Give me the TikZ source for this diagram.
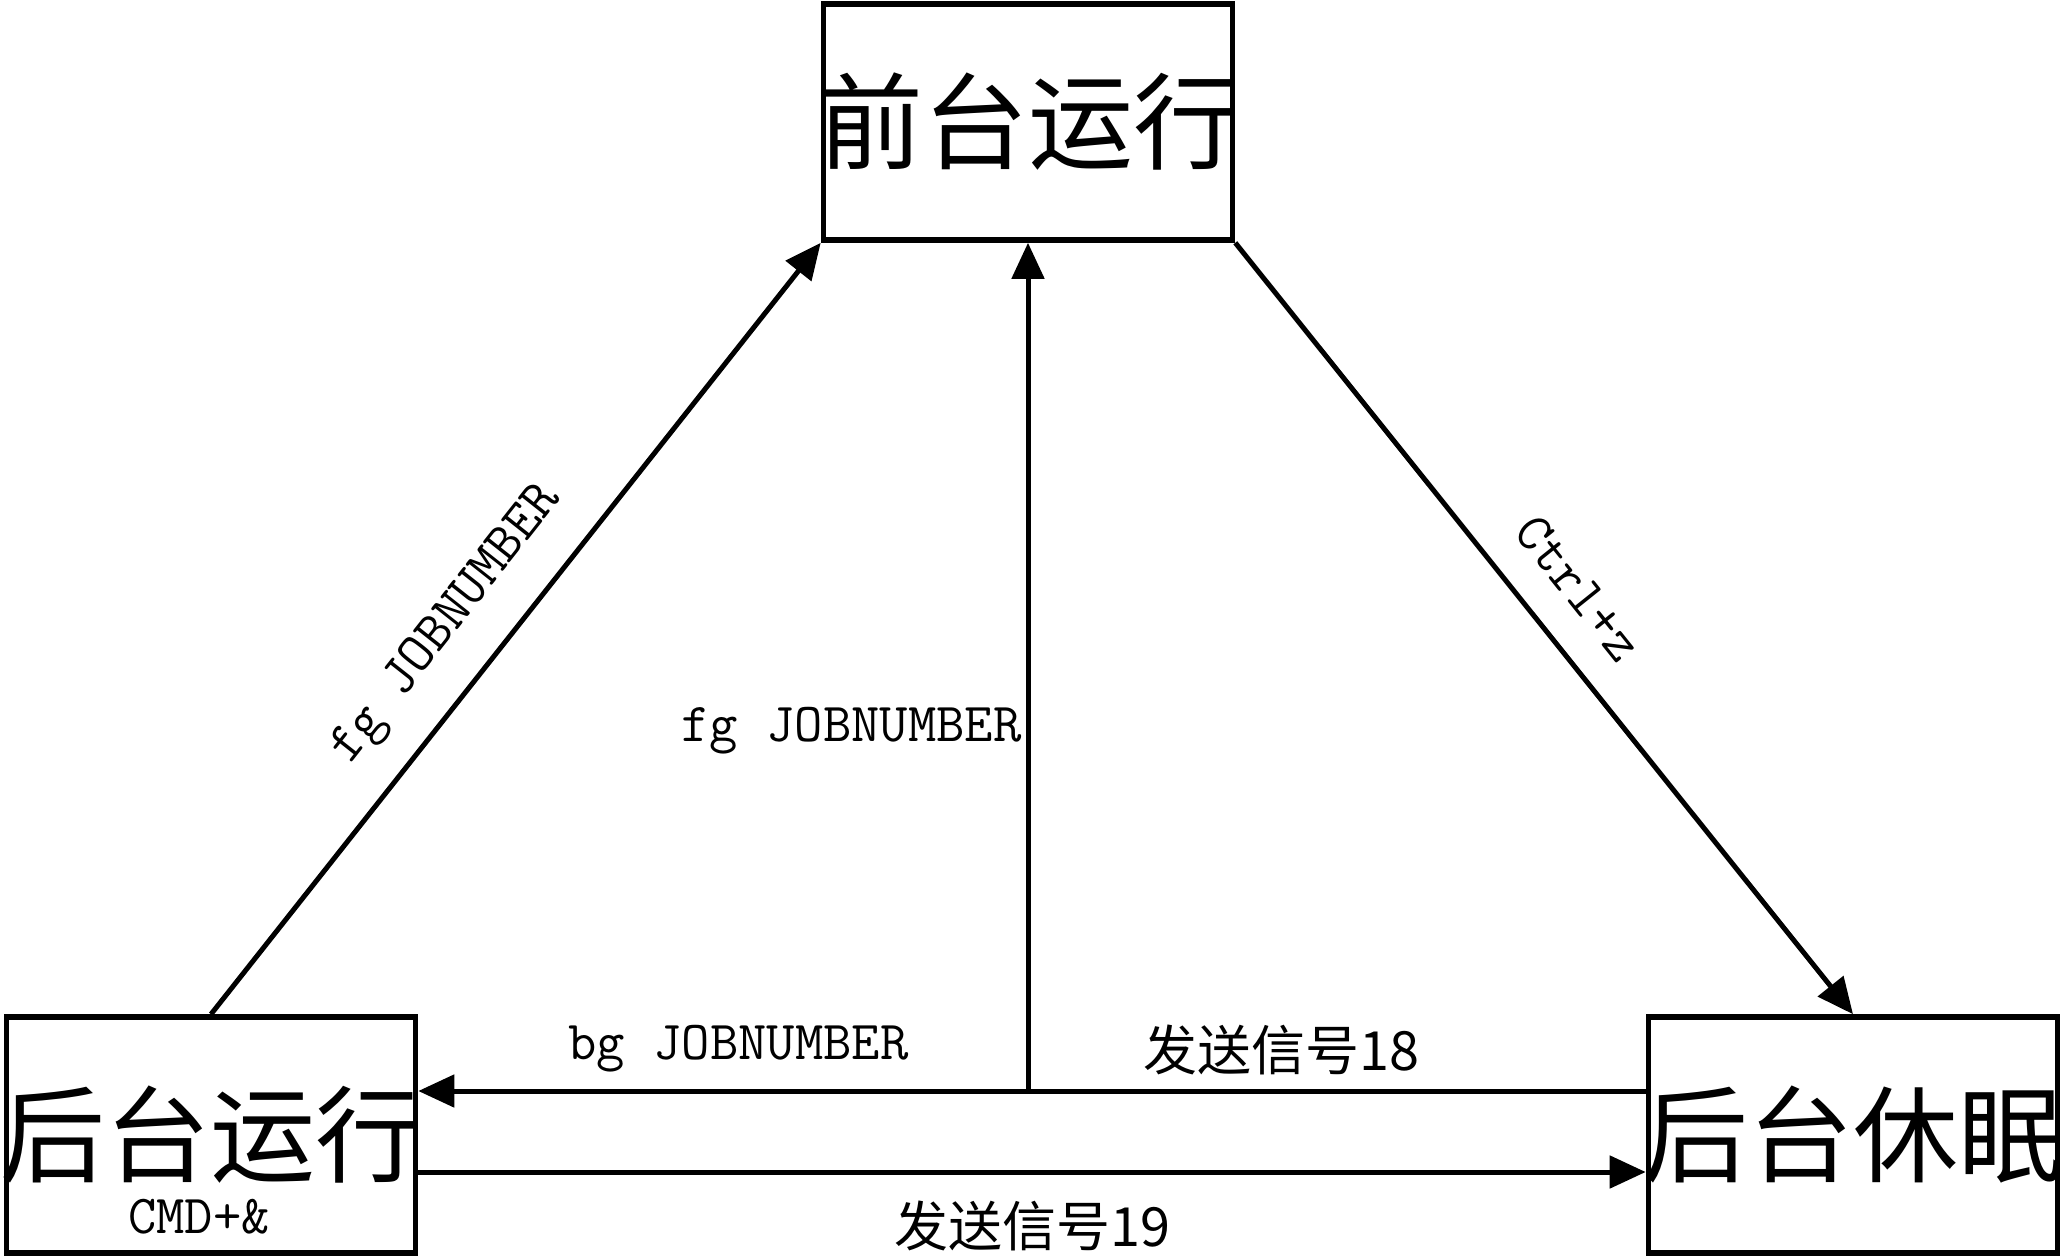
\documentclass[tikz,border=0pt]{standalone}
\usepackage{fontspec}
\newfontfamily\cjk{Noto Sans CJK SC}
\usetikzlibrary{arrows.meta}
\usetikzlibrary{positioning}

\begin{document}
\begin{tikzpicture}[x=0.5pt,y=-0.5pt,
  state/.style={draw,line width=2.8pt,minimum width=204.5pt,minimum height=118pt,inner sep=0pt},
  statetext/.style={font=\cjk\fontsize{52.5}{60}\selectfont,inner sep=0pt},
  line/.style={line width=2.5pt},
  arr/.style={line,-{Triangle[length=18pt,width=16pt]}},
  cmd/.style={font=\ttfamily\fontsize{27.5}{30}\selectfont,inner sep=0pt},
  sig/.style={font=\cjk\fontsize{27}{30}\selectfont,inner sep=0pt}]
  \useasboundingbox (0,0) rectangle (2063,1258);
  %states
  \node[state,label={[statetext]center:前台运行}] (fg) at (1028,122) {};
  \node[state,label={[statetext]center:后台运行}] (bg) at (211,1135) {};
  \node[state,label={[statetext]center:后台休眠}] (sl) at (1853,1135) {};
  \node[cmd,at=(bg.south),above=10.5pt,xshift=-6pt] (amp) {CMD+\&};
  %slanted edges
  \draw[arr] (bg.north) -- node[cmd,sloped,above=15pt,pos=0.46] {fg JOBNUMBER} (fg.south west);
  \draw[arr] (fg.south east) -- node[cmd,sloped,above=16pt,pos=0.49] {Ctrl+z} (sl.north);
  %signals
  \coordinate (s18) at ([yshift=22pt]sl.west);
  \coordinate (jn) at (fg.south |- s18);
  \draw[line] (s18) -- node[sig,above=7pt,pos=0.59] {发送信号18} (jn);
  \draw[arr] (jn) -- node[cmd,above=8pt,pos=0.475] {bg JOBNUMBER} (bg.east |- jn);
  \draw[arr] (jn) -- node[cmd,left=2pt,pos=0.425] {fg JOBNUMBER} (fg.south);
  \coordinate (b19) at ([yshift=-18.5pt]bg.east);
  \draw[arr] (b19) -- node[sig,below=13pt] {发送信号19} (b19 -| sl.west);
\end{tikzpicture}
\end{document}
